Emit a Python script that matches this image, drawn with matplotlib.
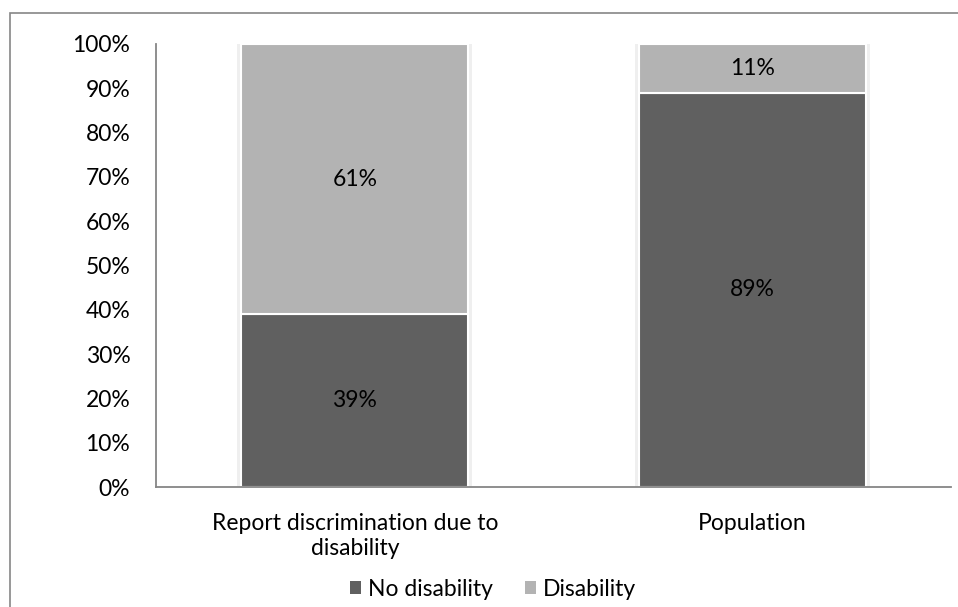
#!/usr/bin/env python3
"""
Stacked share of disability: reporters of discrimination vs population
"""
import matplotlib
matplotlib.use('Agg')
import matplotlib.pyplot as plt
from matplotlib.patches import Patch, Rectangle

categories = ['Report discrimination due to\ndisability', 'Population']
no_disability = [39, 89]
disability = [61, 11]
series_names = ['No disability', 'Disability']
y_ticks = list(range(0, 101, 10))

DARK = '#606060'
LIGHT = '#b3b3b3'
AXIS = '#868686'
FONT = 16.5

plt.rcParams['font.family'] = ['Lato', 'DejaVu Sans']


def main():
  fig = plt.figure(figsize=(9.58, 6.07), dpi=100)
  # outer chart border, runs off the right/bottom edge like the source
  fig.patches.append(Rectangle((9.5 / 958, -0.05), 1.1, 1 - 12.5 / 607 + 0.05,
                               transform=fig.transFigure, fill=False,
                               edgecolor=AXIS, linewidth=1.2))
  ax = fig.add_axes([156 / 958, 120 / 607, 795 / 958, 443 / 607])

  x = list(range(len(categories)))
  width = 0.57
  # soft shadow behind the bars
  totals = [a + b for a, b in zip(no_disability, disability)]
  ax.bar(x, totals, width=width + 0.02, color='#efefef', zorder=1)
  ax.bar(x, no_disability, width=width, color=DARK, edgecolor='white',
         linewidth=1.5, zorder=2)
  ax.bar(x, disability, width=width, bottom=no_disability, color=LIGHT,
         edgecolor='white', linewidth=1.5, zorder=2)

  for i in x:
    ax.text(i, no_disability[i] / 2, '%d%%' % no_disability[i], ha='center',
            va='center', fontsize=FONT, color='black', zorder=3)
    ax.text(i, no_disability[i] + disability[i] / 2, '%d%%' % disability[i],
            ha='center', va='center', fontsize=FONT, color='black', zorder=3)

  ax.set_xlim(-0.5, len(categories) - 0.5)
  ax.set_ylim(0, 100)
  ax.set_yticks(y_ticks)
  ax.set_yticklabels(['%d%%' % v for v in y_ticks], fontsize=FONT)
  ax.set_xticks(x)
  ax.set_xticklabels(categories, fontsize=FONT, linespacing=1.2)
  ax.tick_params(axis='y', length=0, pad=18.5)
  ax.tick_params(axis='x', length=0, pad=19)

  for side in ('top', 'right'):
    ax.spines[side].set_visible(False)
  for side in ('left', 'bottom'):
    ax.spines[side].set_color(AXIS)
    ax.spines[side].set_linewidth(1.3)
    ax.spines[side].set_zorder(4)

  handles = [Patch(facecolor=DARK), Patch(facecolor=LIGHT)]
  fig.legend(handles, series_names, loc='center', ncol=2,
             bbox_to_anchor=(493 / 958, 18 / 607), frameon=False,
             fontsize=FONT, handlelength=0.5, handleheight=0.5,
             handletextpad=0.3, columnspacing=1.4, borderpad=0)

  fig.savefig('out.png', dpi=100)


if __name__ == '__main__':
  main()
